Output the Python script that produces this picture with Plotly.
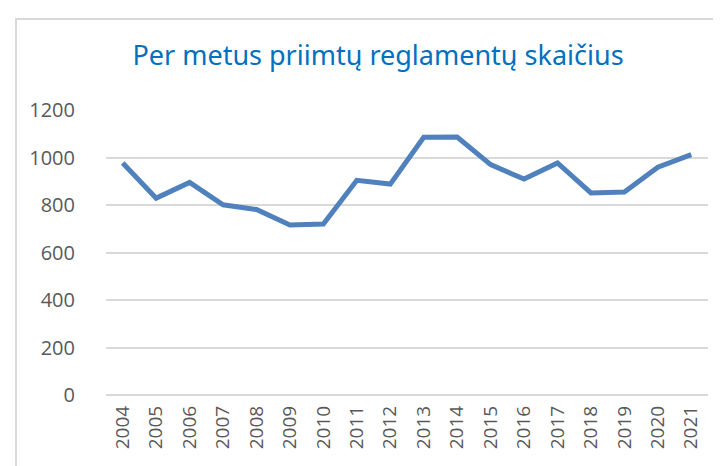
import plotly.graph_objects as go

years = [str(y) for y in range(2004, 2022)]
values = [977, 829, 895, 801, 781, 716, 720, 904, 888, 1085, 1086, 970, 909, 977, 851, 855, 959, 1012]
y_ticks = [0, 200, 400, 600, 800, 1000, 1200]
title_text = "Per metus priimtų reglamentų skaičius"

fig = go.Figure()
fig.add_trace(go.Scatter(x=years, y=values, mode="lines",
                         line=dict(color="#4F81BD", width=5), hoverinfo="x+y"))

W, H = 721, 466
L, R, T, B = 98, 21, 102, 79
pw, ph = W - L - R, H - T - B

def px_x(p):
    return (p - L) / pw

def px_y(p):
    return (H - B - p) / ph

fig.update_layout(
    width=W, height=H,
    margin=dict(l=L, r=R, t=T, b=B, autoexpand=False),
    paper_bgcolor="white", plot_bgcolor="white",
    showlegend=False,
    title=dict(text=title_text, x=370 / W, xanchor="center", y=1 - 48 / H, yanchor="middle",
               font=dict(family="Noto Sans", size=27, color="#0070C0")),
    xaxis=dict(type="category", range=[-0.5, 17.5], tickangle=-90, showgrid=False, showline=False, ticks="",
               automargin=False,
               tickfont=dict(family="Open Sans", size=19, color="#595959"), ticklabelstandoff=6),
    yaxis=dict(range=[0, 1200], tickvals=y_ticks, showgrid=True, gridcolor="#D9D9D9", gridwidth=1.5,
               automargin=False,
               zeroline=True, zerolinecolor="#D9D9D9", zerolinewidth=1.5, showline=False, ticks="",
               tickfont=dict(family="Open Sans", size=20, color="#595959"), ticklabelstandoff=30),
    shapes=[dict(type="rect", xref="paper", yref="paper",
                 x0=px_x(8), x1=px_x(730), y0=px_y(480), y1=px_y(11),
                 line=dict(color="#D9D9D9", width=2), fillcolor="rgba(0,0,0,0)", layer="below")],
)

fig.write_html("out.html")
